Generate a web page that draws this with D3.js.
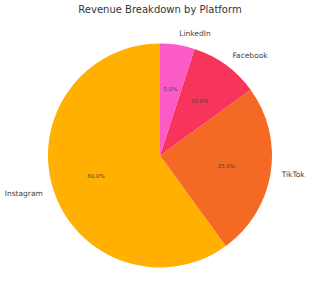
<!DOCTYPE html>
<html>
<head>
<meta charset="utf-8">
<script src="https://cdn.jsdelivr.net/npm/d3@7"></script>
<style>
    body { margin: 0; background: #fff; }
    text { font-family: "DejaVu Sans", sans-serif; }
</style>
</head>
<body>
<div id="chart"></div>
<script>
const platforms = ["Instagram", "TikTok", "Facebook", "LinkedIn"];
const revenueShare = [60, 25, 10, 5];
const sliceColors = ["#ffb000", "#f46a25", "#f7345a", "#fb5bc6"];

const width = 309;
const height = 300;
const cx = 160;
const cy = 155.5;
const radius = 112;

const svg = d3.select("#chart").append("svg")
    .attr("width", width)
    .attr("height", height);

svg.append("text")
    .attr("x", cx)
    .attr("y", 9)
    .attr("text-anchor", "middle")
    .attr("dominant-baseline", "central")
    .style("font-size", "10px")
    .style("fill", "#333")
    .text("Revenue Breakdown by Platform");

const data = platforms.map((p, i) => ({name: p, value: revenueShare[i], color: sliceColors[i]}));

// counterclockwise from top, like matplotlib startangle=90
const pie = d3.pie()
    .value(d => d.value)
    .sort(null)
    .startAngle(0)
    .endAngle(-2 * Math.PI);

const arcs = pie(data);
const arc = d3.arc().innerRadius(0).outerRadius(radius);

const g = svg.append("g").attr("transform", `translate(${cx} ${cy})`);

g.selectAll("path")
    .data(arcs)
    .join("path")
    .attr("d", arc)
    .attr("fill", d => d.data.color);

const pos = (d, k) => {
    const a = (d.startAngle + d.endAngle) / 2;
    return [Math.sin(a) * radius * k, -Math.cos(a) * radius * k];
};

g.selectAll(".pct")
    .data(arcs)
    .join("text")
    .attr("class", "pct")
    .attr("x", d => pos(d, 0.6)[0])
    .attr("y", d => pos(d, 0.6)[1])
    .attr("text-anchor", "middle")
    .attr("dominant-baseline", "central")
    .style("font-size", "5.5px")
    .style("fill", "#444")
    .text(d => d.data.value.toFixed(1) + "%");

g.selectAll(".lbl")
    .data(arcs)
    .join("text")
    .attr("class", "lbl")
    .attr("x", d => pos(d, 1.1)[0])
    .attr("y", d => pos(d, 1.1)[1])
    .attr("text-anchor", d => pos(d, 1.1)[0] > 0 ? "start" : "end")
    .attr("dominant-baseline", "central")
    .style("font-size", "7.5px")
    .style("fill", "#444")
    .text(d => d.data.name);
</script>
</body>
</html>
